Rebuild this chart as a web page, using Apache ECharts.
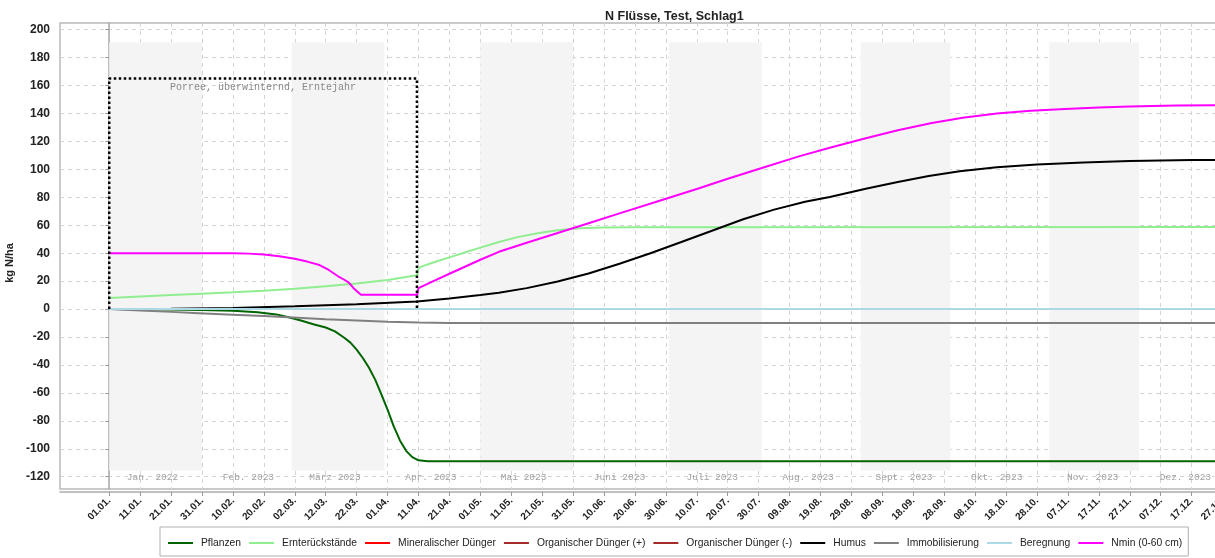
<!DOCTYPE html>
<html><head><meta charset="utf-8">
<script src="https://cdn.jsdelivr.net/npm/echarts@6/dist/echarts.min.js"></script>
<style>html,body{margin:0;padding:0;background:#fff}#c{width:1215px;height:558px}</style>
</head><body><div id="c"></div>
<script>
// x values are days since 01.01.2023
const chartTitle = 'N Flüsse, Test, Schlag1';
const yTicks = [-120,-100,-80,-60,-40,-20,0,20,40,60,80,100,120,140,160,180,200];
const xTickDays = [0,10,20,30,40,50,60,70,80,90,100,110,120,130,140,150,160,170,180,190,200,210,220,230,240,250,260,270,280,290,300,310,320,330,340,350,360];
const xTickLabels = ['01.01.','11.01.','21.01.','31.01.','10.02.','20.02.','02.03.','12.03.','22.03.','01.04.','11.04.','21.04.','01.05.','11.05.','21.05.','31.05.','10.06.','20.06.','30.06.','10.07.','20.07.','30.07.','09.08.','19.08.','29.08.','08.09.','18.09.','28.09.','08.10.','18.10.','28.10.','07.11.','17.11.','27.11.','07.12.','17.12.','27.12.'];
const monthNames = ['Jan. 2022','Feb. 2023','März 2023','Apr. 2023','Mai 2023','Juni 2023','Juli 2023','Aug. 2023','Sept. 2023','Okt. 2023','Nov. 2023','Dez. 2023'];
const monthStartDays = [0,31,59,90,120,151,181,212,243,273,304,334];
const monthEndDays = [30,58,89,119,150,180,211,242,272,303,333,364];
const shadedMonths = [0,2,4,6,8,10];
const bandRange = [-115.5, 191];

const seriesNames = ['Pflanzen','Ernterückstände','Mineralischer Dünger','Organischer Dünger (+)','Organischer Dünger (-)','Humus','Immobilisierung','Beregnung','Nmin (0-60 cm)'];
const seriesColors = ['#006400','#90ee90','#ff0000','#a52a2a','#a52a2a','#000000','#808080','#add8e6','#ff00ff'];

const pflanzen = [[0,0],[10,-0.1],[20,-0.3],[30,-0.6],[40,-1.2],[48,-2.2],[54,-3.8],[58,-5.8],[62,-8.2],[66,-10.8],[70,-13.2],[73,-16],[76,-20.5],[78,-24],[80,-29],[82,-35],[84,-42],[86,-50.5],[88,-61],[90,-72],[92,-84],[94,-94],[96,-101.5],[98,-106],[100,-108.3],[103,-109],[370,-109]];
const ernterueckstaende = [[0,8],[10,9],[20,10],[30,11],[40,12],[50,13.2],[60,14.6],[70,16.3],[80,18.3],[90,20.8],[99.5,24.2],[99.8,28],[100.5,30],[105,33.5],[110,37],[115,40.5],[120,44],[126,48],[132,51.5],[139,54.5],[145,56.5],[152,57.8],[160,58.4],[170,58.6],[370,58.7]];
const mineralisch = [[0,0],[370,0]];
const organischPlus = [[0,0],[370,0]];
const organischMinus = [[0,0],[370,0]];
const humus = [[0,0],[20,0.3],[40,0.8],[60,2],[80,3.5],[99.5,5.5],[110,7.5],[120,10],[126,11.7],[135,15],[145,19.8],[155,25.5],[165,32.5],[175,40],[185,48],[196,57],[205,64.3],[215,71.2],[225,76.8],[233,80.3],[245,86.3],[255,91],[265,95.2],[275,98.7],[287,101.5],[300,103.5],[315,105],[330,106],[350,106.7],[370,107]];
const immobilisierung = [[0,0],[10,-1],[20,-2],[29,-2.9],[40,-4],[50,-5],[58,-5.9],[70,-7.2],[80,-8.1],[90,-9],[100,-9.6],[110,-9.9],[120,-10],[370,-10]];
const beregnung = [[0,0],[370,0]];
const nmin = [[0,40],[40,40],[45,39.7],[50,39],[55,37.8],[60,36],[64,34],[68,31.5],[71,28],[74,23.5],[76,21],[77.5,19],[79,15],[81.4,10.3],[99.6,10.3],[100,15],[105,20.2],[110,25.3],[115,30.3],[120,35.3],[126,41],[135,47.5],[145,54.5],[155,61.5],[165,68.5],[179,78.3],[190,86],[200,93.3],[210,100.3],[223,109.3],[233,115.5],[244,122],[255,128],[266,133.2],[276,137],[287,140],[298,142],[309,143.3],[320,144.3],[330,145],[345,145.7],[370,146.2]];
const seriesData = [pflanzen, ernterueckstaende, mineralisch, organischPlus, organischMinus, humus, immobilisierung, beregnung, nmin];

const cropLabel = 'Porree, überwinternd, Erntejahr';
const cropRectDays = [0,0,99.5,99.5];
const cropRectVals = [0,165,165,0];
const monthLabelOffset = 14;
const monthLabelY = -120.7;

const chart = echarts.init(document.getElementById('c'), null, {renderer:'canvas'});
const fontSans = 'Liberation Sans, Arial, sans-serif';
const fontMono = 'Liberation Mono, Courier New, monospace';

const bandData = shadedMonths.map(i => [{xAxis: monthStartDays[i], yAxis: bandRange[0]}, {xAxis: monthEndDays[i], yAxis: bandRange[1]}]);

const series = [];
series.push({
  name: '_bands', type: 'line', data: [], silent: true, z: 1,
  markArea: { silent: true, itemStyle: {color: '#f4f4f4'}, data: bandData }
});
seriesNames.forEach((n, i) => {
  series.push({
    name: n, type: 'line', data: seriesData[i], showSymbol: false, symbol: 'none',
    lineStyle: {color: seriesColors[i], width: 2}, itemStyle: {color: seriesColors[i]},
    z: 3, animation: false
  });
});
series.push({
  name: '_crop', type: 'line', data: cropRectDays.map((d, i) => [d, cropRectVals[i]]),
  symbol: 'none', z: 4, lineStyle: {color: '#000', width: 2.5, type: [2.5, 2.5]},
  markArea: { silent: true, itemStyle: {color: 'rgba(0,0,0,0)'},
    label: {show: true, position: 'insideTop', distance: 4, color: '#888', fontFamily: fontMono, fontSize: 10},
    data: [[{name: cropLabel, xAxis: cropRectDays[0], yAxis: cropRectVals[0]}, {xAxis: cropRectDays[3], yAxis: cropRectVals[1]}]] }
});
series.push({
  name: '_months', type: 'scatter', symbolSize: 0, z: 2, silent: true,
  data: monthNames.map((m, i) => ({name: m, value: [monthStartDays[i] + monthLabelOffset, monthLabelY]})),
  label: {show: true, position: 'inside', formatter: p => p.name, color: '#888', fontFamily: fontMono, fontSize: 9.5}
});

chart.setOption({
  animation: false,
  backgroundColor: '#fff',
  title: { text: chartTitle, left: 600, top: 5, textStyle: {fontFamily: fontSans, fontSize: 12.5, fontWeight: 'bold', color: '#222'} },
  legend: {
    data: seriesNames, left: 160, top: 527, width: 1040, icon: 'rect', itemWidth: 25, itemHeight: 2, itemGap: 8,
    padding: [11, 6, 8, 8], borderColor: '#b0b0b0', borderWidth: 1,
    textStyle: {fontFamily: fontSans, fontSize: 10.3, color: '#222', padding: [0,0,0,3]}
  },
  grid: { left: 60, top: 23, bottom: 69, right: -40, outerBoundsMode: 'none', containLabel: false, show: true, borderColor: '#b8b8b8', borderWidth: 1.5, backgroundColor: 'rgba(0,0,0,0)' },
  xAxis: {
    type: 'value', min: -15.92, max: 370.5, offset: 3,
    axisLine: {show: true, onZero: false, lineStyle: {color: '#aaa', width: 1.5}},
    axisTick: {show: true, length: 4, lineStyle: {color: '#999'}, customValues: xTickDays},
    axisLabel: {customValues: xTickDays, rotate: 45, margin: 7, fontFamily: fontSans, fontSize: 10, fontWeight: 'bold', color: '#222',
      formatter: v => xTickLabels[xTickDays.indexOf(Math.round(v))] || ''},
    splitLine: {show: true, lineStyle: {color: '#d4d4d4', type: [4,4], width: 1}}
  },
  yAxis: {
    type: 'value', min: -128.8, max: 204.8, offset: 4,
    name: 'kg N/ha', nameLocation: 'middle', nameGap: 41,
    nameTextStyle: {fontFamily: fontSans, fontSize: 11, fontWeight: 'bold', color: '#222', padding: [0, 14, 0, 0]},
    axisLine: {show: true, lineStyle: {color: '#aaa', width: 1.5}},
    axisTick: {show: true, length: 4, lineStyle: {color: '#999'}, customValues: yTicks},
    axisLabel: {customValues: yTicks, margin: 6, fontFamily: fontSans, fontSize: 12, fontWeight: 'bold', color: '#222'},
    splitLine: {show: true, lineStyle: {color: '#d4d4d4', type: [4,4], width: 1}}
  },
  series: series
});
</script></body></html>
